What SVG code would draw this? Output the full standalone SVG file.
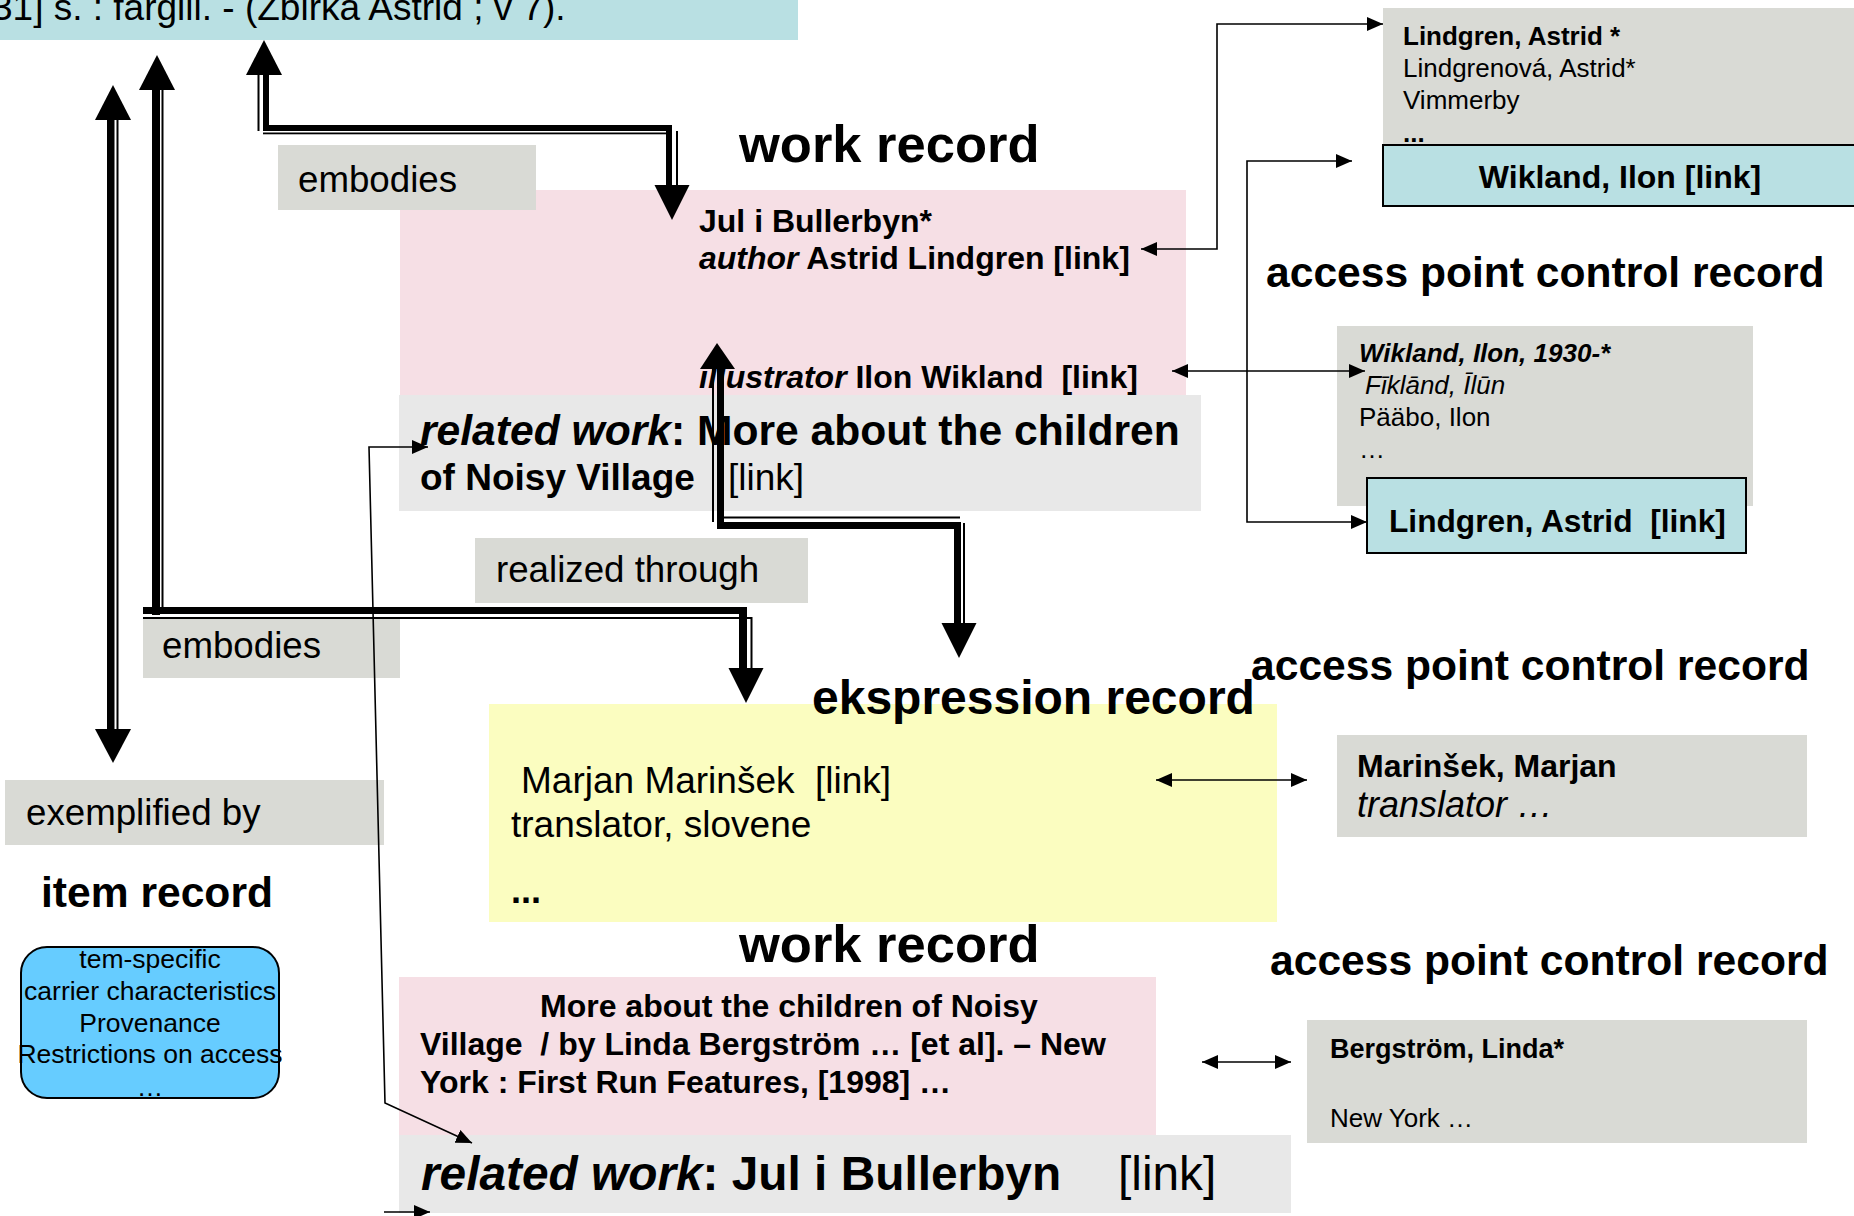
<svg xmlns="http://www.w3.org/2000/svg" width="1854" height="1216" viewBox="0 0 1854 1216">
<style>
text { font-family: "Liberation Sans", Arial, sans-serif; fill: #000; white-space: pre; }
.b { font-weight: bold; }
.i { font-style: italic; }
.n { font-weight: normal; }
.lab { fill: #d9dad5; }
.rel { fill: #e8e8e8; }
.pink { fill: #f6dfe5; }
.teal { fill: #b9e0e3; }
.tealb { fill: #b9e0e3; stroke: #000; stroke-width: 2; }
.yel { fill: #fbfdc0; }
.item { fill: #66ccff; stroke: #000; stroke-width: 2; }
.bar { fill: #000; }
.line { fill: none; stroke: #000; stroke-width: 1.6; marker-start: url(#ah); marker-end: url(#ah); }
.line1 { fill: none; stroke: #000; stroke-width: 1.6; marker-end: url(#ah); }
.f26 { font-size: 26px; }
.f32 { font-size: 32px; }
.lbl { font-size: 36.7px; }
.apc { font-size: 42.6px; font-weight: bold; }
</style>
<defs>
<marker id="ah" markerUnits="userSpaceOnUse" markerWidth="18" markerHeight="16" refX="16" refY="7" orient="auto-start-reverse"><path d="M0,0 L16,7 L0,14 Z" fill="#000"/></marker>
</defs>
<rect x="0" y="0" width="1854" height="1216" fill="#fff"/>

<g id="manifestation-record">
<rect class="teal" x="0" y="0" width="798" height="40"/>
<text x="-8" y="20" font-size="37">31] s. : färgill. - (Zbirka Astrid ; v 7).</text>
</g>

<g id="work-record-1">
<text class="b" x="739" y="162" font-size="52.5">work record</text>
<rect class="pink" x="400" y="190" width="786" height="205"/>
<text class="b f32" x="699" y="232">Jul i Bullerbyn*</text>
<text class="b f32" x="699" y="269"><tspan class="i">author</tspan> Astrid Lindgren [link]</text>
<text class="b f32" x="699" y="388"><tspan class="i">illustrator</tspan> Ilon Wikland  [link]</text>
<rect class="rel" x="399" y="395" width="802" height="116"/>
<text class="b" x="420" y="445" font-size="42.6"><tspan class="i">related work</tspan>: More about the children</text>
<text x="420" y="490" font-size="37"><tspan class="b">of Noisy Village</tspan><tspan x="728">[link]</tspan></text>
</g>

<g id="label-embodies-1">
<rect class="lab" x="278" y="145" width="258" height="65"/>
<text class="lbl" x="298" y="192">embodies</text>
</g>

<g id="label-embodies-2">
<rect class="lab" x="143" y="618" width="257" height="60"/>
<text class="lbl" x="162" y="658">embodies</text>
</g>

<g id="label-realized">
<rect class="lab" x="475" y="538" width="333" height="65"/>
<text class="lbl" x="496" y="582">realized through</text>
</g>

<g id="label-exemplified">
<rect class="lab" x="5" y="780" width="379" height="65"/>
<text class="lbl" x="26" y="825">exemplified by</text>
</g>

<g id="apc-lindgren">
<rect class="lab" x="1383" y="8" width="480" height="137"/>
<text class="b f26" x="1403" y="45">Lindgren, Astrid *</text>
<text class="f26" x="1403" y="77">Lindgrenová, Astrid*</text>
<text class="f26" x="1403" y="109">Vimmerby</text>
<text class="b f26" x="1403" y="142">...</text>
</g>

<g id="link-wikland">
<rect class="tealb" x="1383" y="145" width="480" height="61"/>
<text class="b f32" x="1620" y="188" text-anchor="middle">Wikland, Ilon [link]</text>
</g>

<g id="title-apc-1">
<text class="apc" x="1266" y="287">access point control record</text>
</g>

<g id="apc-wikland">
<rect class="lab" x="1337" y="326" width="416" height="180"/>
<text class="b i f26" x="1359" y="362">Wikland, Ilon, 1930-*</text>
<text class="i f26" x="1365" y="394">Fīklānd, Īlūn</text>
<text class="f26" x="1359" y="426">Pääbo, Ilon</text>
<text class="f26" x="1359" y="458">…</text>
</g>

<g id="link-lindgren">
<rect class="tealb" x="1367" y="478" width="379" height="75"/>
<text class="b" x="1389" y="532" font-size="31.7">Lindgren, Astrid  [link]</text>
</g>

<g id="title-apc-2">
<text class="apc" x="1251" y="680">access point control record</text>
</g>

<g id="expression-record">
<rect class="yel" x="489" y="704" width="788" height="218"/>
<text class="b" x="812" y="714" font-size="48">ekspression record</text>
<text x="521" y="793" font-size="37">Marjan Marinšek  [link]</text>
<text x="511" y="837" font-size="37">translator, slovene</text>
<text class="b" x="511" y="903" font-size="36">...</text>
</g>

<g id="apc-marinsek">
<rect class="lab" x="1337" y="735" width="470" height="102"/>
<text class="b f32" x="1357" y="777">Marinšek, Marjan</text>
<text class="i" x="1357" y="817" font-size="36">translator …</text>
</g>

<g id="item-record">
<text class="b" x="41" y="907" font-size="42.6">item record</text>
<rect class="item" x="21" y="947" width="258" height="151" rx="26" ry="26"/>
<text x="150" y="968" font-size="26.5" text-anchor="middle">tem-specific</text>
<text x="150" y="1000" font-size="26.5" text-anchor="middle">carrier characteristics</text>
<text x="150" y="1032" font-size="26.5" text-anchor="middle">Provenance</text>
<text x="150" y="1063" font-size="26.5" text-anchor="middle">Restrictions on access</text>
<text x="150" y="1096" font-size="26.5" text-anchor="middle">…</text>
</g>

<g id="work-record-2">
<text class="b" x="739" y="962" font-size="52.5">work record</text>
<rect class="pink" x="399" y="977" width="757" height="158"/>
<text class="b f32" x="540" y="1017">More about the children of Noisy</text>
<text class="b f32" x="420" y="1055">Village  / by Linda Bergström … [et al]. – New</text>
<text class="b f32" x="420" y="1093">York : First Run Features, [1998] …</text>
<rect class="rel" x="399" y="1135" width="892" height="78"/>
<text class="b" x="421" y="1190" font-size="47.8"><tspan class="i">related work</tspan>: Jul i Bullerbyn<tspan class="n" x="1118">[link]</tspan></text>
</g>

<g id="title-apc-3">
<text class="apc" x="1270" y="975">access point control record</text>
</g>

<g id="apc-bergstrom">
<rect class="lab" x="1307" y="1020" width="500" height="123"/>
<text class="b" x="1330" y="1058" font-size="27">Bergström, Linda*</text>
<text class="f26" x="1330" y="1127">New York …</text>
</g>

<g id="connectors">
<!-- A: exemplified by (double) -->
<rect class="bar" x="107" y="118" width="7.5" height="613"/>
<rect class="bar" x="116.5" y="118" width="2" height="613"/>
<polygon class="bar" points="113,85 95,120 131,120"/>
<polygon class="bar" points="113,763 95,729 131,729"/>

<!-- B: embodies (lower) -->
<polygon class="bar" points="157,55 139,90 175,90"/>
<rect class="bar" x="152" y="88" width="8" height="527"/>
<rect class="bar" x="161.5" y="88" width="2" height="519"/>
<rect class="bar" x="143" y="607" width="604" height="7"/>
<rect class="bar" x="143" y="617" width="609" height="2"/>
<rect class="bar" x="739" y="607" width="8" height="62"/>
<rect class="bar" x="750.5" y="617" width="2" height="52"/>
<polygon class="bar" points="746,703 728.5,668 763.5,668"/>

<!-- C: embodies (upper) -->
<polygon class="bar" points="264,40 246,75 282,75"/>
<rect class="bar" x="257.5" y="73" width="2" height="58"/>
<rect class="bar" x="263" y="73" width="6" height="58"/>
<rect class="bar" x="263" y="125" width="409" height="6"/>
<rect class="bar" x="263" y="132.5" width="404" height="1.8"/>
<rect class="bar" x="666" y="125" width="6" height="61"/>
<rect class="bar" x="676" y="131" width="2" height="55"/>
<polygon class="bar" points="672,220 654.5,185 689.5,185"/>

<!-- D: realized through -->
<polygon class="bar" points="717,343 700,369 735,369"/>
<rect class="bar" x="717" y="366" width="7" height="163"/>
<rect class="bar" x="712" y="366" width="2" height="156"/>
<rect class="bar" x="717" y="522" width="243" height="7"/>
<rect class="bar" x="720" y="516.5" width="240" height="2"/>
<rect class="bar" x="954" y="522" width="7" height="102"/>
<rect class="bar" x="963" y="523" width="2" height="101"/>
<polygon class="bar" points="959,658 941.5,623 976.5,623"/>

<!-- thin links -->
<path class="line" d="M1141,249 H1217 V24 H1383"/>
<path class="line" d="M1172,371 H1365"/>
<path class="line" d="M1352,161 H1247 V522 H1367"/>
<path class="line" d="M1156,780 H1307"/>
<path class="line" d="M1202,1062 H1291"/>
<path class="line" d="M428,447 H369 L385,1103 L472,1143"/>
<path class="line1" d="M384,1212 H430"/>
</g>
</svg>
